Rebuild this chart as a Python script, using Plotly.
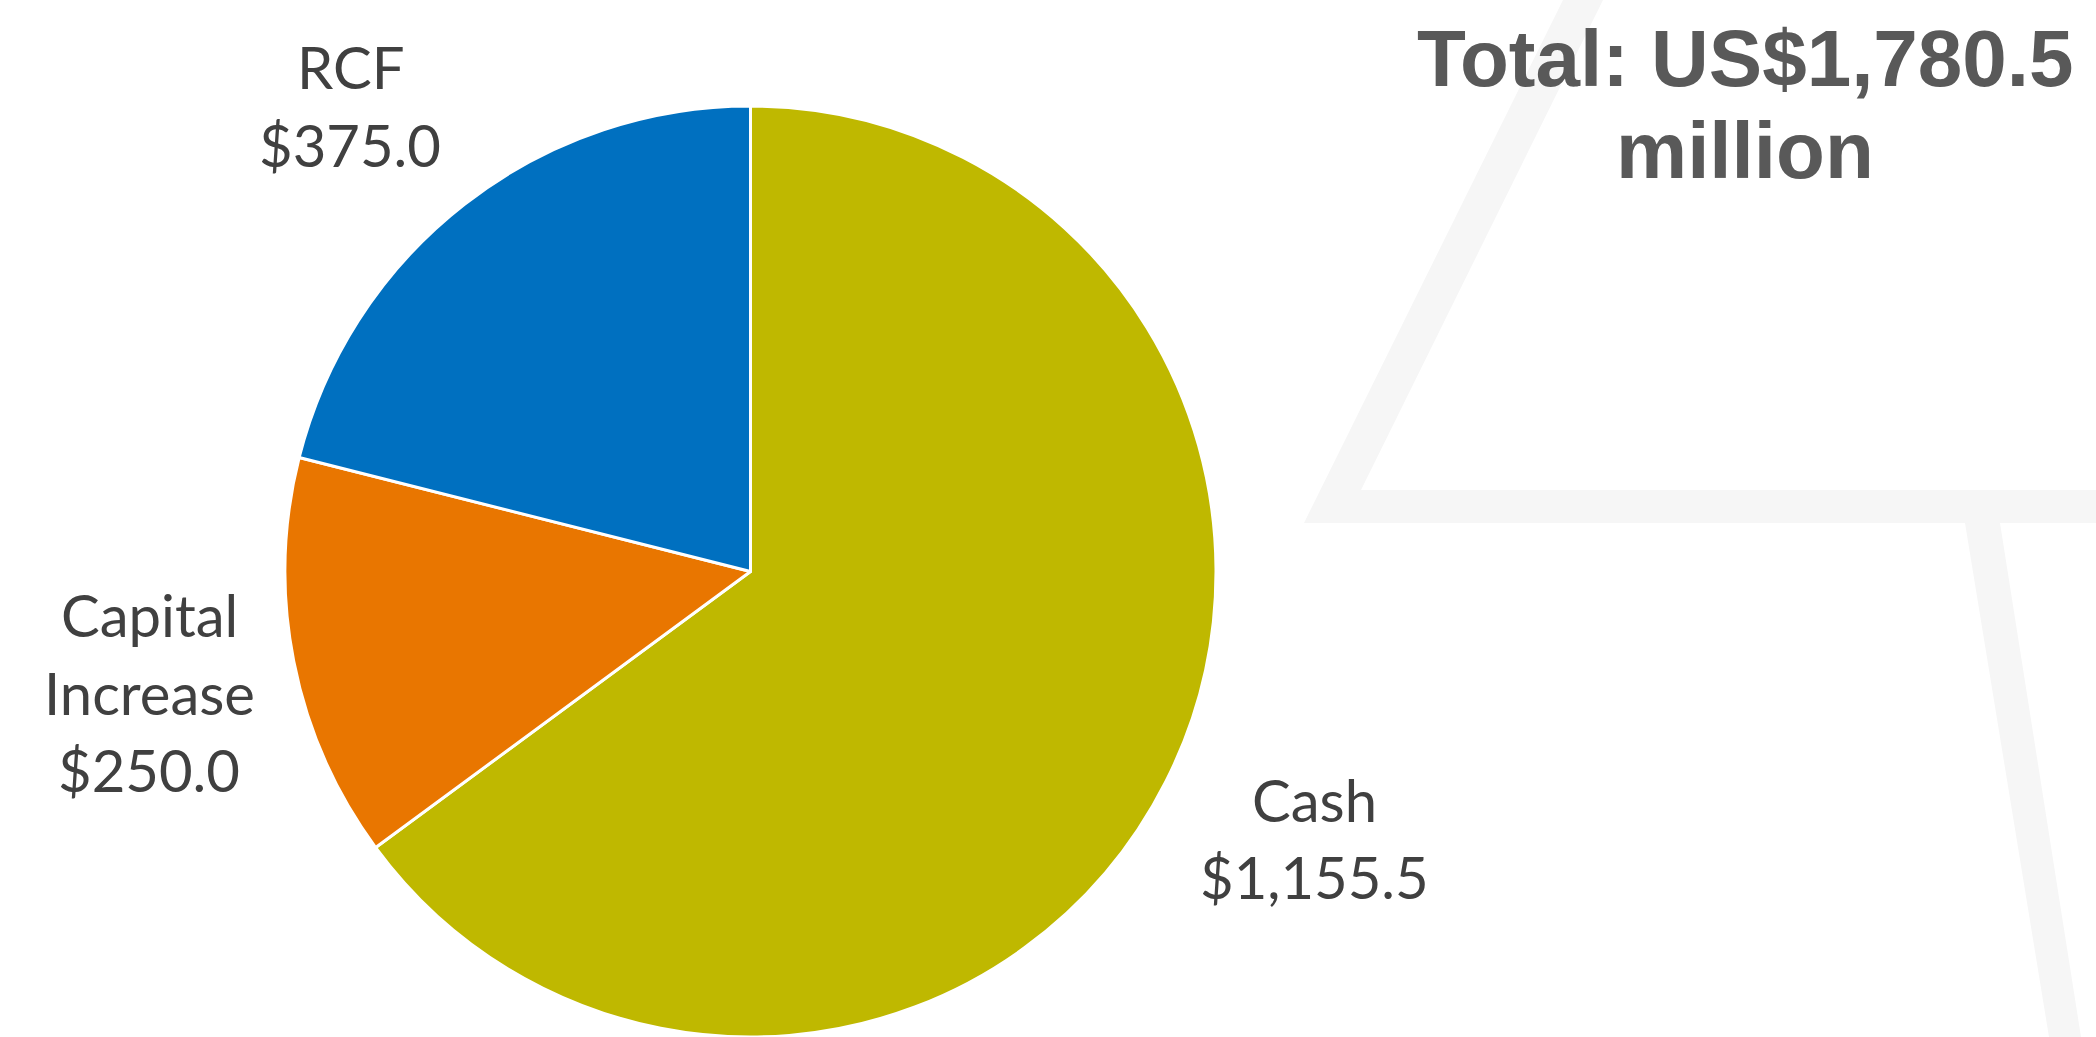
import plotly.graph_objects as go

# ---- data ----
categories = ["Cash", "Capital Increase", "RCF"]
display_names = ["Cash", "Capital<br>Increase", "RCF"]
values = [1155.5, 250.0, 375.0]
colors = ["#BFB800", "#E97600", "#0070C0"]
total_text = "Total: US$1,780.5"
total_unit = "million"

W, H = 2096, 1037

def px(x):
    return x / W

def py(y):
    return 1 - y / H

fig = go.Figure()

fig.add_trace(go.Pie(
    labels=categories,
    values=values,
    sort=False,
    direction="clockwise",
    rotation=0,
    marker=dict(colors=colors, line=dict(color="white", width=3)),
    textinfo="none",
    hoverinfo="label+value",
    showlegend=False,
    domain=dict(x=[px(283), px(1218)], y=[0, py(106)]),
))

# decorative background band
path_pts = [(1563, 0), (1304, 523), (1965, 523), (2049, 1037), (2081, 1037),
            (2000, 523), (2096, 523), (2096, 490), (1361, 490), (1603, 0)]
path = "M " + " L ".join(f"{px(x)},{py(y)}" for x, y in path_pts) + " Z"
fig.add_shape(type="path", path=path, xref="paper", yref="paper",
              fillcolor="#f6f6f6", line=dict(width=0), layer="below")

label_font = dict(family="Lato, Calibri, sans-serif", size=58, color="#404040")
# label anchor: (center x, first line y)
label_pos = {"Cash": (1314, 799), "Capital Increase": (149, 614.5), "RCF": (350, 66.5)}
line_gap = 77.5
for cat, name, val in zip(categories, display_names, values):
    x, y0 = label_pos[cat]
    lines = name.split("<br>") + [f"${val:,.1f}"]
    for i, line in enumerate(lines):
        fig.add_annotation(x=px(x), y=py(y0 + i * line_gap), xref="paper", yref="paper",
                           text=line, showarrow=False, font=label_font, align="center",
                           xanchor="center", yanchor="middle")

title_font = dict(family="Liberation Sans, Arial, sans-serif", size=80, color="#595959")
fig.add_annotation(x=px(1745), y=py(58), xref="paper", yref="paper",
                   text=f"<b>{total_text}</b>", showarrow=False, font=title_font,
                   xanchor="center", yanchor="middle")
fig.add_annotation(x=px(1745), y=py(151), xref="paper", yref="paper",
                   text=f"<b>{total_unit}</b>", showarrow=False, font=title_font,
                   xanchor="center", yanchor="middle")

fig.update_layout(width=W, height=H, margin=dict(l=0, r=0, t=0, b=0),
                  paper_bgcolor="white", plot_bgcolor="white")

fig.write_html("out.html", config={"displayModeBar": False},
               post_script="document.body.style.margin='0';")
